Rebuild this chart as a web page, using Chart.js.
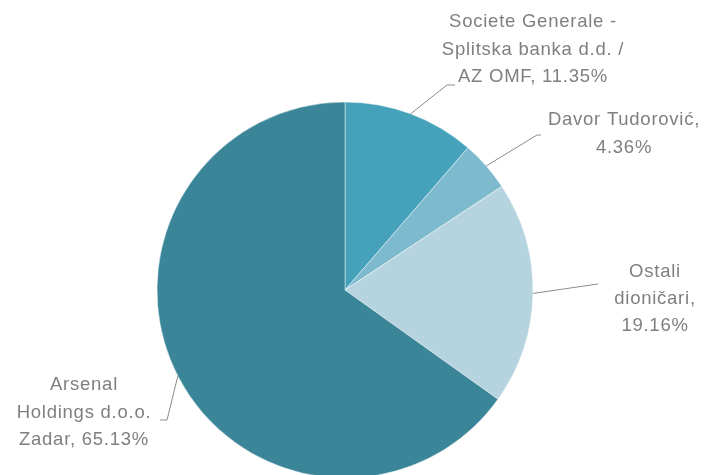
<!DOCTYPE html>
<html>
<head>
<meta charset="utf-8">
<script src="https://cdn.jsdelivr.net/npm/chart.js@4/dist/chart.umd.min.js"></script>
<style>
  html, body { margin: 0; padding: 0; background: #ffffff; overflow: hidden; width: 704px; height: 475px; }
  #wrap { position: absolute; left: 0; top: 0; width: 704px; height: 580px; }
</style>
</head>
<body>
<div id="wrap"><canvas id="c" width="704" height="580"></canvas></div>
<script>
// ---- data ----
const categories = [
  ['Societe Generale -', 'Splitska banka d.d. /', 'AZ OMF'],
  ['Davor Tudorović'],
  ['Ostali', 'dioničari'],
  ['Arsenal', 'Holdings d.o.o.', 'Zadar']
];
const values = [11.35, 4.36, 19.16, 65.13];
const percentOnNewLine = [false, true, true, false];

// ---- style ----
const colors = ['#46A2BA', '#7DBACE', '#B6D4DF', '#3A8698'];
const textColor = '#7F7F7F';
const lineColor = '#8C8C8C';

// label layout relative to pie centre: elbow, end of leader, text centre (first line), line height
const labelLayout = [
  { elbow: [102, -205], end: [110, -205], text: [188, -268], lh: 27.5 },
  { elbow: [192, -155], end: [196, -155], text: [279, -170], lh: 27.5 },
  { elbow: [253, -6],   end: [253, -6],   text: [310, -18],  lh: 27 },
  { elbow: [-178, 130], end: [-185, 130], text: [-261, 95],  lh: 27.5 }
];

const labelPlugin = {
  id: 'outLabels',
  afterDatasetsDraw(chart) {
    const ctx = chart.ctx;
    const meta = chart.getDatasetMeta(0);
    ctx.save();
    meta.data.forEach((arc, i) => {
      const p = arc.getProps(['x', 'y', 'startAngle', 'endAngle', 'outerRadius'], true);
      const mid = (p.startAngle + p.endAngle) / 2;
      const ax = p.x + Math.cos(mid) * p.outerRadius;
      const ay = p.y + Math.sin(mid) * p.outerRadius;
      const L = labelLayout[i];
      ctx.strokeStyle = lineColor;
      ctx.lineWidth = 1;
      ctx.beginPath();
      ctx.moveTo(ax, ay);
      ctx.lineTo(p.x + L.elbow[0], p.y + L.elbow[1]);
      ctx.lineTo(p.x + L.end[0], p.y + L.end[1]);
      ctx.stroke();

      const pct = values[i].toFixed(2) + '%';
      const lines = categories[i].slice();
      if (percentOnNewLine[i]) {
        lines[lines.length - 1] += ',';
        lines.push(pct);
      } else {
        lines[lines.length - 1] += ', ' + pct;
      }
      ctx.fillStyle = textColor;
      ctx.font = '18.5px "Liberation Sans", Arial, sans-serif';
      ctx.letterSpacing = '0.75px';
      ctx.textAlign = 'center';
      ctx.textBaseline = 'middle';
      lines.forEach((t, k) => {
        ctx.fillText(t, p.x + L.text[0], p.y + L.text[1] + k * L.lh);
      });
    });
    ctx.restore();
  }
};

new Chart(document.getElementById('c'), {
  type: 'pie',
  data: {
    labels: categories,
    datasets: [{
      data: values,
      backgroundColor: colors,
      borderColor: 'rgba(255,255,255,0.6)',
      borderWidth: 0.75,
      radius: 188
    }]
  },
  options: {
    responsive: false,
    animation: false,
    layout: { padding: { left: 157, right: 171, top: 102, bottom: 102 } },
    plugins: {
      legend: { display: false },
      tooltip: { enabled: false }
    }
  },
  plugins: [labelPlugin]
});
</script>
</body>
</html>
